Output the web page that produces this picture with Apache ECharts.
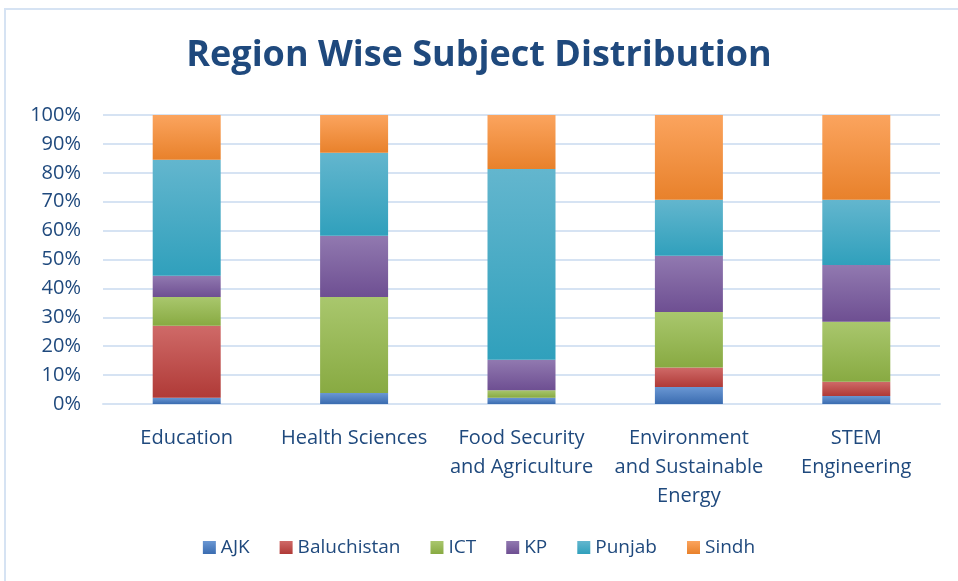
<!DOCTYPE html>
<html>
<head>
<meta charset="utf-8">
<script src="https://cdn.jsdelivr.net/npm/echarts@6/dist/echarts.min.js"></script>
<style>
  html, body { margin: 0; padding: 0; background: #fff; }
  #main { width: 958px; height: 581px; }
</style>
</head>
<body>
<div id="main"></div>
<script>
// subject areas along the x axis
const categories = [
  "Education",
  "Health Sciences",
  "Food Security\nand Agriculture",
  "Environment\nand Sustainable\nEnergy",
  "STEM\nEngineering"
];

// share of each region per subject (%)
const ajk         = [2.2, 3.8, 2.2, 5.9, 2.8];
const baluchistan = [24.9, 0, 0, 6.7, 4.9];
const ict         = [9.9, 33.2, 2.6, 19.2, 20.8];
const kp          = [7.4, 21.2, 10.5, 19.5, 19.6];
const punjab      = [40.1, 28.7, 66.0, 19.4, 22.6];
const sindh       = [15.5, 13.1, 18.7, 29.3, 29.3];

const regions = [
  { name: "AJK", data: ajk, top: "#6a97d3", bottom: "#3a6cb0" },
  { name: "Baluchistan", data: baluchistan, top: "#cf6a68", bottom: "#b03a37" },
  { name: "ICT", data: ict, top: "#a9c76d", bottom: "#88aa42" },
  { name: "KP", data: kp, top: "#9179b0", bottom: "#6e4f92" },
  { name: "Punjab", data: punjab, top: "#63b6ce", bottom: "#30a0bc" },
  { name: "Sindh", data: sindh, top: "#fba45e", bottom: "#e8812b" }
];

const textColor = "#1f497d";
const lineColor = "#d6e3f3";

const chart = echarts.init(document.getElementById("main"));

const option = {
  animation: false,
  title: {
    text: "Region Wise Subject Distribution",
    left: "center",
    top: 33,
    textStyle: {
      fontFamily: "Open Sans",
      fontWeight: "bold",
      fontSize: 36,
      color: textColor
    }
  },
  legend: {
    bottom: 19,
    left: "center",
    itemWidth: 13,
    itemHeight: 13,
    itemGap: 30,
    icon: "rect",
    textStyle: { fontFamily: "Open Sans", fontSize: 19, color: textColor }
  },
  grid: {
    left: 103,
    right: 18,
    top: 115,
    bottom: 177
  },
  xAxis: {
    type: "category",
    data: categories,
    axisLine: { lineStyle: { color: lineColor, width: 2 } },
    axisTick: { show: false },
    axisLabel: {
      color: textColor,
      fontFamily: "Open Sans",
      fontSize: 20,
      lineHeight: 29,
      margin: 20,
      interval: 0
    }
  },
  yAxis: {
    type: "value",
    min: 0,
    max: 100,
    interval: 10,
    axisLine: { show: false },
    axisTick: { show: false },
    splitLine: { lineStyle: { color: lineColor, width: 2 } },
    axisLabel: {
      formatter: "{value}%",
      color: textColor,
      fontFamily: "Open Sans",
      fontSize: 20,
      margin: 22
    }
  },
  series: regions.map(r => ({
    name: r.name,
    type: "bar",
    stack: "total",
    barWidth: 68,
    data: r.data,
    itemStyle: {
      color: new echarts.graphic.LinearGradient(0, 0, 0, 1, [
        { offset: 0, color: r.top },
        { offset: 1, color: r.bottom }
      ])
    }
  })),
  graphic: [
    {
      type: "rect",
      shape: { x: 5, y: 9, width: 960, height: 580 },
      style: { fill: "none", stroke: lineColor, lineWidth: 2 },
      silent: true
    }
  ]
};

chart.setOption(option);
</script>
</body>
</html>
